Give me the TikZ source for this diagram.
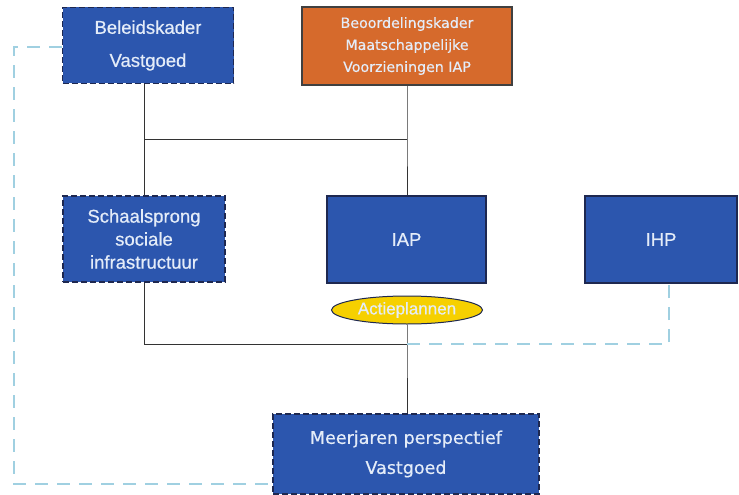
\documentclass[tikz,border=0pt]{standalone}
\usepackage{fontspec}
\setmainfont[FakeBold=0.6,AutoFakeBold=0.6]{Liberation Sans}
\newfontfamily\verd[AutoFakeBold=0.5]{DejaVu Sans}
\usetikzlibrary{shapes.geometric}
\definecolor{boxblue}{RGB}{44,86,174}
\definecolor{boxedge}{RGB}{30,40,80}
\definecolor{boxorange}{RGB}{214,106,44}
\definecolor{txtlight}{RGB}{228,236,248}
\definecolor{fbblue}{RGB}{160,208,225}
\definecolor{ellyellow}{RGB}{246,208,0}
\tikzset{
  bluebox/.style={draw=boxedge, fill=boxblue, text=txtlight, line width=1.2pt, align=center, inner sep=0pt},
  dashbox/.style={bluebox, dash pattern=on 6pt off 3pt},
  orangebox/.style={draw=black!75, fill=boxorange, text=txtlight, line width=1.2pt, align=center, inner sep=0pt},
  link/.style={draw=black!80, line width=0.9pt},
  feedback/.style={draw=fbblue, line width=1.3pt, dash pattern=on 13pt off 9pt},
}
\begin{document}
\begin{tikzpicture}[x=1pt,y=-1pt]
\useasboundingbox (0,0) rectangle (739,495);
\fill[white] (0,0) rectangle (739,495);
% boxes
\node[dashbox, minimum width=171pt, minimum height=76pt, font=\bfseries\fontsize{18.5}{33}\selectfont] (bel) at (148,45.5) {Beleidskader\\Vastgoed};
\node[orangebox, minimum width=210pt, minimum height=78pt, font=\verd\bfseries\fontsize{14.2}{22}\selectfont] (beo) at (407,46) {Beoordelingskader\\Maatschappelijke\\Voorzieningen IAP};
\node[dashbox, minimum width=162pt, minimum height=86pt, font=\bfseries\fontsize{18.5}{23}\selectfont] (sch) at (144,239) {Schaalsprong\\sociale\\infrastructuur};
\node[bluebox, minimum width=159pt, minimum height=87pt, font=\bfseries\fontsize{18.5}{23}\selectfont] (iap) at (406.5,239.5) {IAP};
\node[bluebox, minimum width=152pt, minimum height=87pt, font=\bfseries\fontsize{18.5}{23}\selectfont] (ihp) at (661,239.5) {IHP};
\node[ellipse, draw=boxedge, fill=ellyellow, text=txtlight, line width=1pt, minimum width=151pt, minimum height=28pt, inner sep=0pt, font=\bfseries\fontsize{17}{20}\selectfont] (act) at (407,310) {Actieplannen};
\node[dashbox, minimum width=266pt, minimum height=80pt, font=\verd\bfseries\fontsize{17.5}{30}\selectfont] (mjp) at (406,454) {Meerjaren perspectief\\Vastgoed};
% junction coordinates
\coordinate (j1) at (144,139);
\coordinate (j2) at (407,139);
\coordinate (j3) at (144,344);
\coordinate (j4) at (407,344);
\coordinate (f1) at (669,344);
\coordinate (f2) at (14,47);
\coordinate (f3) at (14,484);
% solid links
\draw[link] (bel.south -| j1) -- (j1) -- (j2);
\draw[link] (beo.south) -- (j2) -- (iap.north -| j2);
\draw[link] (j1) -- (sch.north -| j1);
\draw[link] (sch.south -| j3) -- (j3) -- (j4);
\draw[link] (act.south) -- (j4) -- (mjp.north -| j4);
% feedback dashed lines
\draw[feedback] (j4) -- (f1) -- (ihp.south -| f1);
\draw[feedback] (bel.west |- f2) -- (f2) -- (f3) -- (mjp.west |- f3);
\end{tikzpicture}
\end{document}
